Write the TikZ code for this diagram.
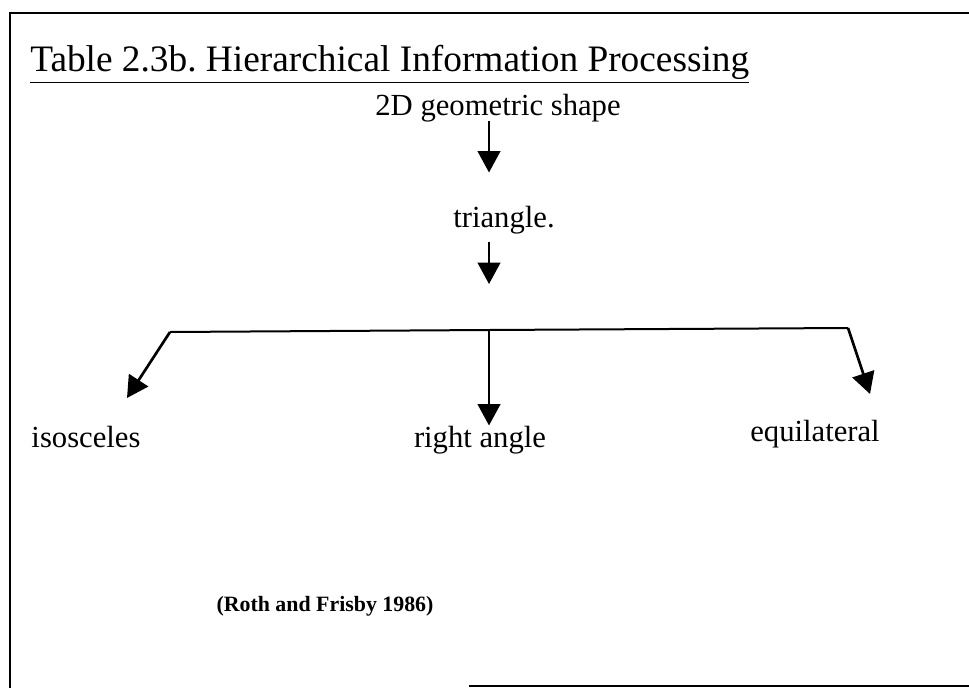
\documentclass[tikz,border=0pt]{standalone}
\usepackage{fontspec}
\setmainfont{Liberation Serif}
\usepackage{tikz}
\usetikzlibrary{arrows.meta,calc}

\begin{document}
\begin{tikzpicture}[x=0.75pt,y=-0.75pt,
        txt/.style={inner sep=0pt, anchor=base, font=\fontsize{23}{26}\selectfont},
        ttl/.style={inner sep=0pt, anchor=base west, font=\fontsize{28}{32}\selectfont},
        src/.style={inner sep=0pt, anchor=base, font=\fontsize{16.4}{19}\selectfont\bfseries},
        arr/.style={-{Triangle[length=16pt,width=17pt]}, line width=1.5pt},
        frame/.style={line width=2pt}
      ]
        \useasboundingbox (0,0) rectangle (969,688);
        % frame, open on the right
        \draw[frame] (969,13) -- (10,13) -- (10,688);
        \draw[frame] (469,686) -- (969,686);

        \node[ttl] (title) at (30,72) {\underline{Table 2.3b.\ Hierarchical Information Processing}};
        \node[txt] (geo) at (498,116) {2D geometric shape};
        \node[txt] (tri) at (504,227) {triangle.};
        \node[txt] (iso) at (86,447) {isosceles};
        \node[txt] (rang) at (480,447) {right angle};
        \node[txt] (equi) at (815,441) {equilateral};
        \node[src] (roth) at (325,611) {(Roth and Frisby 1986)};

        % branching bar
        \coordinate (hl) at (170,332);
        \coordinate (hm) at (489,330);
        \coordinate (hr) at (848,328);
        \coordinate (tl) at (127,398);
        \coordinate (tr) at (870,394);

        \draw[arr] ($(geo.south -| hm)+(0,-2)$) -- ($(tri.north -| hm)+(0,-33)$);
        \draw[arr] ($(tri.south -| hm)+(0,8)$) -- ($(hm)+(0,-46)$);
        \draw[line width=1.5pt] (hl) -- (hm) -- (hr);
        \draw[arr, line width=2pt] (hl) -- (tl);
        \draw[arr] (hm) -- (rang.north -| hm);
        \draw[arr, line width=2pt] (hr) -- (tr);
\end{tikzpicture}
\end{document}
